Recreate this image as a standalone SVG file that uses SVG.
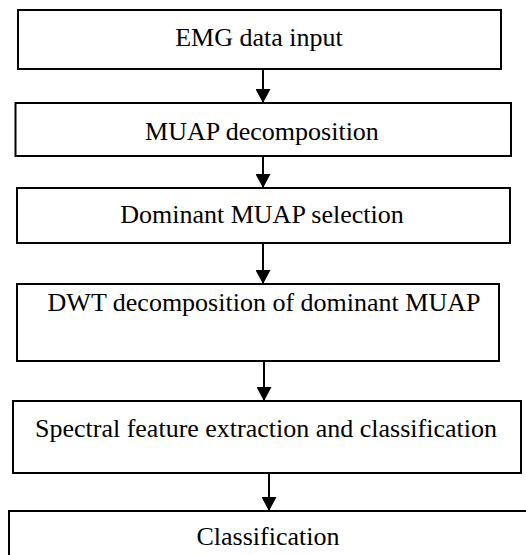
<svg xmlns="http://www.w3.org/2000/svg" width="526" height="555" viewBox="0 0 526 555">
<defs>
<style>
.box{fill:#fff;stroke:#000;stroke-width:2}
.lbl{font-size:26px;fill:#000;text-anchor:middle}
.conn{stroke:#000;stroke-width:2;fill:none}
</style>
<marker id="ah" viewBox="0 0 14 15" refX="14" refY="7.5" markerWidth="14" markerHeight="15" markerUnits="userSpaceOnUse" orient="auto">
<path d="M0,0 L14,7.5 L0,15 Z" fill="#000"/>
</marker>
</defs>
<rect width="526" height="555" fill="#fff"/>
<g id="connectors">
<line class="conn" x1="263" y1="69" x2="263" y2="103" marker-end="url(#ah)"/>
<line class="conn" x1="263" y1="156" x2="263" y2="188" marker-end="url(#ah)"/>
<line class="conn" x1="263" y1="243" x2="263" y2="284" marker-end="url(#ah)"/>
<line class="conn" x1="264" y1="361" x2="264" y2="401" marker-end="url(#ah)"/>
<line class="conn" x1="269" y1="473" x2="269" y2="511" marker-end="url(#ah)"/>
</g>
<g font-family="Liberation Serif, Times New Roman, serif">
<g id="n1"><rect class="box" x="18" y="10" width="483" height="59"/><text class="lbl" x="259" y="46">EMG data input</text></g>
<g id="n2"><rect class="box" x="15.5" y="103" width="495.5" height="53"/><text class="lbl" x="262" y="140">MUAP decomposition</text></g>
<g id="n3"><rect class="box" x="17" y="188" width="493" height="55"/><text class="lbl" x="262" y="223">Dominant MUAP selection</text></g>
<g id="n4"><rect class="box" x="17" y="284" width="482" height="77"/><text class="lbl" x="264" y="311">DWT decomposition of dominant MUAP</text></g>
<g id="n5"><rect class="box" x="13" y="401" width="508" height="72"/><text class="lbl" x="266" y="437">Spectral feature extraction and classification</text></g>
<g id="n6"><rect class="box" x="9" y="511" width="530" height="60"/><text class="lbl" x="268" y="545">Classification</text></g>
</g>
</svg>
